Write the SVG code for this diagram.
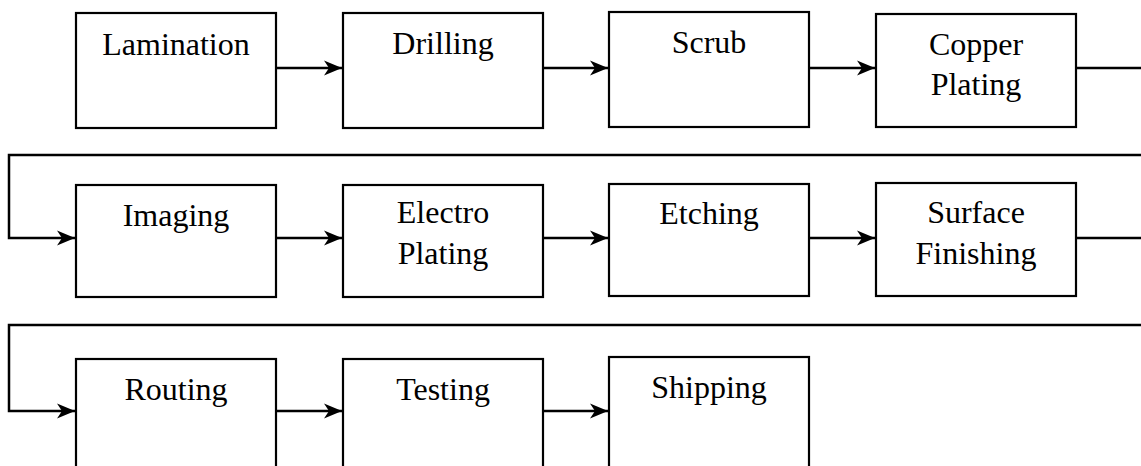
<svg xmlns="http://www.w3.org/2000/svg" width="1141" height="466" viewBox="0 0 1141 466">
<style>
.box{fill:#fff;stroke:#000;stroke-width:2.2}
.lbl{font-family:"Liberation Serif","Times New Roman",serif;font-size:32px;fill:#000;text-anchor:middle}
.conn{fill:none;stroke:#000;stroke-width:2.5}
</style>
<defs>
<marker id="arr" markerUnits="userSpaceOnUse" markerWidth="20" markerHeight="18" refX="18" refY="9" orient="auto" overflow="visible">
<path d="M0,1.5 L18,9 L0,16.5 L5,9 Z" fill="#000"/>
</marker>
</defs>
<rect width="1141" height="466" fill="#fff"/>
<g id="connectors">
<path class="conn" d="M276,68 H342" marker-end="url(#arr)"/>
<path class="conn" d="M543,68 H608" marker-end="url(#arr)"/>
<path class="conn" d="M809,68 H875" marker-end="url(#arr)"/>
<path class="conn" d="M1076,68 H1150 V155 H9 V238 H75" marker-end="url(#arr)"/>
<path class="conn" d="M276,238 H342" marker-end="url(#arr)"/>
<path class="conn" d="M543,238 H608" marker-end="url(#arr)"/>
<path class="conn" d="M809,238 H875" marker-end="url(#arr)"/>
<path class="conn" d="M1076,238 H1150 V325 H9 V411 H75" marker-end="url(#arr)"/>
<path class="conn" d="M276,411 H342" marker-end="url(#arr)"/>
<path class="conn" d="M543,411 H608" marker-end="url(#arr)"/>
</g>
<g id="lamination"><rect class="box" x="76" y="13" width="200" height="115"/><text class="lbl" x="176" y="55">Lamination</text></g>
<g id="drilling"><rect class="box" x="343" y="13" width="200" height="115"/><text class="lbl" x="443" y="54">Drilling</text></g>
<g id="scrub"><rect class="box" x="609" y="12" width="200" height="115"/><text class="lbl" x="709" y="53">Scrub</text></g>
<g id="copper-plating"><rect class="box" x="876" y="14" width="200" height="113"/><text class="lbl" x="976" y="55">Copper</text><text class="lbl" x="976" y="95">Plating</text></g>
<g id="imaging"><rect class="box" x="76" y="185" width="200" height="112"/><text class="lbl" x="176" y="226">Imaging</text></g>
<g id="electro-plating"><rect class="box" x="343" y="185" width="200" height="112"/><text class="lbl" x="443" y="223">Electro</text><text class="lbl" x="443" y="264">Plating</text></g>
<g id="etching"><rect class="box" x="609" y="184" width="200" height="112"/><text class="lbl" x="709" y="224">Etching</text></g>
<g id="surface-finishing"><rect class="box" x="876" y="183" width="200" height="113"/><text class="lbl" x="976" y="223">Surface</text><text class="lbl" x="976" y="264">Finishing</text></g>
<g id="routing"><rect class="box" x="76" y="359" width="200" height="112"/><text class="lbl" x="176" y="400">Routing</text></g>
<g id="testing"><rect class="box" x="343" y="359" width="200" height="112"/><text class="lbl" x="443" y="400">Testing</text></g>
<g id="shipping"><rect class="box" x="609" y="357" width="200" height="114"/><text class="lbl" x="709" y="398">Shipping</text></g>
</svg>
